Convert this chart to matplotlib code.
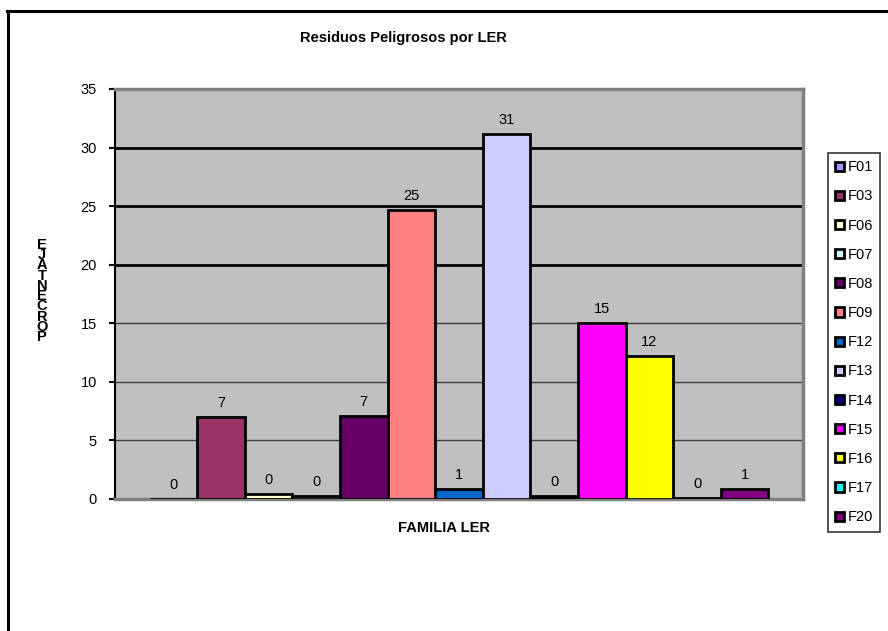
import matplotlib
matplotlib.use("Agg")
import matplotlib.pyplot as plt
from matplotlib.patches import Rectangle
from matplotlib.lines import Line2D
import numpy as np

plt.rcParams['font.family'] = ['Liberation Sans', 'DejaVu Sans']

# Residuos peligrosos por familia LER (porcentaje)
familias = ["F01", "F03", "F06", "F07", "F08", "F09", "F12",
            "F13", "F14", "F15", "F16", "F17", "F20"]
porcentaje = [0.0, 7.0, 0.4, 0.25, 7.1, 24.7, 0.85,
              31.2, 0.25, 15.05, 12.2, 0.1, 0.85]
colores = ["#9999FF", "#993366", "#FFFFCC", "#CCFFFF", "#660066", "#FF8080",
           "#0066CC", "#CCCCFF", "#000080", "#FF00FF", "#FFFF00", "#00FFFF",
           "#800080"]
y_ticks = [0, 5, 10, 15, 20, 25, 30, 35]

W, H = 888, 631
fig = plt.figure(figsize=(W / 100, H / 100), dpi=100)

# outer chart frame (top and left edges)
fig.add_artist(Line2D([7 / W, 1.0], [1 - 11 / H, 1 - 11 / H],
                      transform=fig.transFigure, color="black", lw=2.2))
fig.add_artist(Line2D([8 / W, 8 / W], [0, 1 - 11 / H],
                      transform=fig.transFigure, color="black", lw=2.2))

left, right, bottom, top = 115, 803, 499, 89
ax = fig.add_axes([left / W, 1 - bottom / H, (right - left) / W, (bottom - top) / H])
ax.set_facecolor("#C0C0C0")

x = np.arange(len(familias))
bars = ax.bar(x, porcentaje, width=1.0, color=colores, edgecolor="black",
              linewidth=2.0, zorder=3)

for xi, v in zip(x, porcentaje):
    ax.annotate(f"{v:.0f}", (xi, v), xytext=(0, 5), textcoords="offset points",
                ha="center", va="bottom", fontsize=10.5, zorder=4)

ax.set_xlim(-1.225, 13.225)
ax.set_ylim(0, 35)
ax.set_yticks(y_ticks)
ax.set_yticklabels([str(t) for t in y_ticks], fontsize=10.5)
ax.tick_params(axis="y", direction="out", length=4, width=1.5, color="black", pad=9)
ax.set_xticks([])

# horizontal gridlines
for t in y_ticks[1:-1]:
    if t >= 20:
        ax.axhline(t, color="black", lw=2.0, zorder=1)
    else:
        ax.axhline(t, color="#404040", lw=1.0, zorder=1)

for side in ("top", "right", "bottom"):
    ax.spines[side].set_color("#808080")
    ax.spines[side].set_linewidth(2.5)
ax.spines["left"].set_color("black")
ax.spines["left"].set_linewidth(1.5)

fig.text(403 / W, 1 - 38 / H, "Residuos Peligrosos por LER", ha="center",
         va="center", fontsize=10.5, fontweight="bold")
fig.text(444 / W, 1 - 528 / H, "FAMILIA LER", ha="center", va="center",
         fontsize=10.5, fontweight="bold")
fig.text(42 / W, 1 - 291 / H, "\n".join("PORCENTAJE"[::-1]), ha="center",
         va="center", fontsize=10.5, fontweight="bold", linespacing=0.66)

handles = [Rectangle((0, 0), 1, 1, facecolor=c, edgecolor="black", lw=2.0)
           for c in colores]
leg = fig.legend(handles, familias, loc="upper left",
                 bbox_to_anchor=(828 / W, 1 - 153 / H), fontsize=10.5,
                 frameon=True, fancybox=False, edgecolor="black",
                 handlelength=0.6, handleheight=0.6, handletextpad=0.25,
                 labelspacing=1.04, borderpad=0.5, borderaxespad=0)
leg.get_frame().set_linewidth(1.2)

fig.savefig("out.png", dpi=100)
